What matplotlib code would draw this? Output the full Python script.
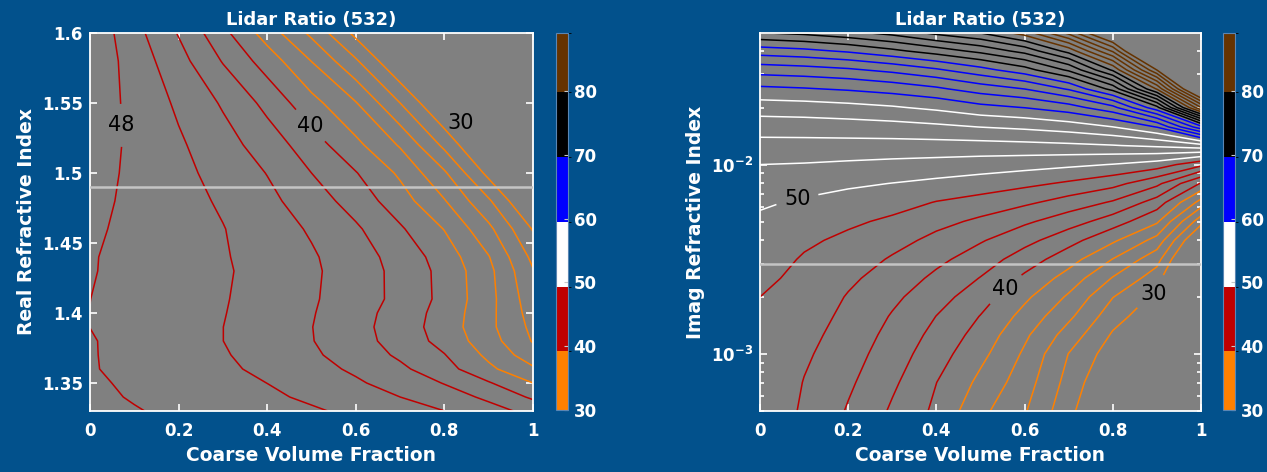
import numpy as np
import matplotlib
matplotlib.use("Agg")
import matplotlib.pyplot as plt
from matplotlib.colors import ListedColormap, BoundaryNorm
from matplotlib.cm import ScalarMappable
from matplotlib.ticker import FuncFormatter, NullFormatter, LogLocator

# ---------------------------------------------------------------- data
coarse_fraction = [0.0, 0.1, 0.2, 0.3, 0.4, 0.5, 0.6, 0.7, 0.8, 0.9, 1.0]

real_index = [1.33, 1.34, 1.35, 1.36, 1.37, 1.38, 1.39, 1.40, 1.41,
              1.43, 1.44, 1.46, 1.48, 1.50, 1.52, 1.55, 1.58, 1.60]

# lidar ratio (sr) vs real refractive index (rows) and coarse fraction (cols)
lidar_ratio_real = [
    [48.58, 48.11, 47.64, 47.17, 46.70, 46.23, 45.60, 44.80, 44.01, 42.72, 41.43],
    [48.39, 47.87, 47.36, 46.84, 46.32, 45.69, 44.84, 44.00, 42.89, 41.62, 39.67],
    [48.28, 47.71, 47.14, 46.57, 45.99, 45.13, 44.27, 43.17, 41.91, 40.17, 38.00],
    [48.13, 47.53, 46.93, 46.33, 45.59, 44.68, 43.68, 42.39, 40.76, 38.42, 36.30],
    [48.12, 47.47, 46.81, 46.16, 45.28, 44.32, 43.10, 41.69, 40.08, 37.56, 34.86],
    [48.12, 47.42, 46.71, 46.01, 45.04, 44.08, 42.75, 41.22, 39.33, 36.88, 33.86],
    [47.99, 47.33, 46.67, 46.01, 45.02, 44.04, 42.66, 41.05, 39.08, 36.51, 33.52],
    [47.98, 47.35, 46.72, 46.08, 45.13, 44.13, 42.77, 41.18, 39.20, 36.58, 33.17],
    [48.01, 47.38, 46.76, 46.14, 45.22, 44.23, 42.97, 41.47, 39.43, 36.67, 32.83],
    [48.11, 47.48, 46.85, 46.22, 45.34, 44.32, 43.01, 41.43, 39.38, 36.55, 32.14],
    [48.13, 47.47, 46.82, 46.16, 45.24, 44.23, 42.88, 41.24, 39.09, 36.10, 31.50],
    [48.30, 47.55, 46.81, 46.07, 44.97, 43.78, 42.30, 40.26, 37.93, 34.50, 29.85],
    [48.50, 47.61, 46.71, 45.75, 44.50, 43.00, 41.16, 38.89, 36.14, 32.30, 27.30],
    [48.72, 47.63, 46.54, 45.31, 43.94, 42.00, 40.10, 37.67, 34.28, 29.40, 25.40],
    [48.96, 47.62, 46.28, 44.79, 43.07, 40.94, 38.50, 35.80, 31.52, 26.90, 22.90],
    [49.21, 47.46, 45.68, 43.78, 41.44, 38.67, 36.12, 32.00, 27.60, 23.60, 19.60],
    [49.54, 47.13, 44.75, 41.87, 39.09, 35.96, 32.27, 27.90, 23.90, 19.90, 15.90],
    [49.54, 46.69, 43.87, 40.56, 37.11, 33.55, 29.47, 25.50, 21.50, 17.50, 13.50],
]

imag_index = [5.01e-4, 7.08e-4, 1.00e-3, 1.26e-3, 1.58e-3, 2.00e-3, 2.51e-3,
              3.16e-3, 3.98e-3, 5.01e-3, 6.31e-3, 7.94e-3, 1.00e-2, 1.26e-2,
              1.58e-2, 2.00e-2, 2.51e-2, 3.16e-2, 3.98e-2, 5.01e-2]

# lidar ratio (sr) vs imaginary refractive index (rows) and coarse fraction (cols)
lidar_ratio_imag = [
    [47.60, 45.70, 43.84, 41.74, 39.60, 36.52, 34.19, 30.66, 26.40, 23.08, 16.0],
    [47.70, 45.93, 44.34, 42.37, 40.02, 37.54, 34.94, 31.30, 27.66, 24.70, 17.0],
    [47.80, 46.32, 44.85, 43.00, 40.86, 38.57, 35.70, 31.95, 28.92, 26.33, 18.0],
    [47.86, 46.62, 45.19, 43.42, 41.41, 39.25, 36.39, 33.14, 29.76, 27.41, 18.8],
    [47.93, 46.92, 45.53, 43.85, 41.97, 39.93, 37.36, 34.44, 30.85, 28.49, 19.8],
    [48.00, 47.23, 45.87, 44.44, 42.78, 40.91, 38.42, 35.71, 32.06, 29.58, 21.0],
    [48.41, 47.53, 46.37, 45.12, 43.59, 41.92, 39.62, 37.21, 33.86, 30.96, 22.5],
    [48.84, 47.83, 46.99, 45.80, 44.49, 43.03, 41.06, 38.86, 35.94, 32.76, 24.5],
    [49.27, 48.32, 47.61, 46.69, 45.48, 44.19, 42.65, 40.76, 38.36, 35.31, 26.9],
    [49.69, 49.04, 48.34, 47.66, 46.61, 45.62, 44.36, 42.93, 41.06, 38.34, 30.80],
    [50.25, 49.76, 49.28, 48.78, 47.91, 47.28, 46.38, 45.18, 43.77, 41.14, 35.27],
    [51.12, 50.76, 50.32, 49.96, 49.56, 49.10, 48.50, 47.70, 46.69, 44.51, 39.83],
    [52.00, 51.90, 51.71, 51.51, 51.31, 51.05, 50.78, 50.42, 49.93, 49.12, 46.58],
    [53.34, 53.33, 53.32, 53.30, 53.32, 53.36, 53.48, 53.65, 53.91, 54.36, 55.28],
    [54.92, 55.00, 55.14, 55.32, 55.61, 56.03, 56.40, 56.98, 57.98, 60.08, 67.30],
    [56.99, 57.13, 57.40, 57.79, 58.42, 59.42, 60.04, 61.13, 63.40, 69.33, 83.93],
    [59.61, 59.86, 60.24, 60.82, 61.66, 62.96, 64.03, 66.24, 70.72, 80.22, 96.50],
    [62.90, 63.21, 63.69, 64.52, 65.71, 67.30, 69.19, 72.35, 78.32, 90.05, 109.2],
    [67.02, 67.49, 68.31, 69.54, 70.97, 72.58, 74.73, 78.74, 86.34, 99.55, 121.9],
    [72.20, 72.77, 73.71, 74.94, 76.83, 78.33, 81.22, 87.00, 94.98, 109.0, 134.5],
]

contour_levels = [30, 32, 34, 36, 38, 40, 42, 44, 46, 48, 50, 52, 54, 56, 58,
                  60, 62, 64, 66, 68, 70, 72, 74, 76, 78, 80, 82, 84, 86, 88, 90]

band_edges = [30, 39.3, 49.3, 59.5, 69.7, 79.9, 89.1]
band_colors = ["#ff8000", "#c00000", "#ffffff", "#0000ff", "#000000", "#663300"]
colorbar_ticks = [30, 40, 50, 60, 70, 80]

reference_real = 1.49
reference_imag = 3.0e-3

# labelled contours: (level, position near the line)
labels_real = [(48, (0.07, 1.534)), (40, (0.498, 1.534))]
labels_imag = [(50, (0.083, 6.8e-3)), (40, (0.55, 2.28e-3)), (30, (0.893, 2.06e-3))]

# ---------------------------------------------------------------- style
BG = "#02518c"
LW = 1.1
plt.rcParams["font.family"] = ["DejaVu Sans"]
plt.rcParams["font.weight"] = "bold"
plt.rcParams["axes.labelweight"] = "bold"
plt.rcParams["axes.titleweight"] = "bold"

fig = plt.figure(figsize=(12.67, 4.72), dpi=100, facecolor=BG)

band_cmap = ListedColormap(band_colors)
band_norm = BoundaryNorm(band_edges, len(band_colors))


def level_color(level):
    idx = int(np.searchsorted(band_edges, level, side="right")) - 1
    idx = min(max(idx, 0), len(band_colors) - 1)
    return band_colors[idx]


plain = FuncFormatter(lambda v, p: f"{v:g}")


def style_axes(ax):
    ax.set_facecolor("#808080")
    for sp in ax.spines.values():
        sp.set_color("white")
        sp.set_linewidth(1.3)
    ax.tick_params(which="both", direction="in", top=True, right=True,
                   colors="white", labelsize=12, width=1.2)
    ax.tick_params(which="major", length=5)
    ax.tick_params(which="minor", length=3)
    ax.tick_params(axis="x", pad=8)
    ax.tick_params(axis="y", pad=5)
    ax.set_xlim(0, 1)
    ax.set_xticks([0, 0.2, 0.4, 0.6, 0.8, 1.0])
    ax.xaxis.set_major_formatter(plain)
    ax.set_xlabel("Coarse Volume Fraction", color="white", fontsize=13.5, labelpad=4)
    ax.set_title("Lidar Ratio (532)", color="white", fontsize=13, pad=6)


def draw_contours(ax, x, y, z, labelled):
    z = np.array(z)
    label_levels = [lv for lv, _ in labelled]
    other = [lv for lv in contour_levels if lv not in label_levels]
    ax.contour(x, y, z, levels=other, colors=[level_color(v) for v in other],
               linewidths=LW)
    for lv, pos in labelled:
        cs = ax.contour(x, y, z, levels=[lv], colors=[level_color(lv)],
                        linewidths=LW)
        texts = ax.clabel(cs, manual=[pos], inline=True, inline_spacing=7,
                          fmt="%d", fontsize=15, colors="k")
        for t in texts:
            t.set_fontweight("normal")
            t.set_rotation(0)


def add_colorbar(rect):
    cax = fig.add_axes(rect)
    sm = ScalarMappable(norm=band_norm, cmap=band_cmap)
    cb = fig.colorbar(sm, cax=cax, ticks=colorbar_ticks, spacing="proportional")
    cb.outline.set_edgecolor("#5a86b4")
    cb.outline.set_linewidth(0.8)
    cax.tick_params(direction="in", length=3, width=0.8, color="#c8c8c8",
                    labelcolor="white", labelsize=12, pad=4)
    return cb


# ---------------------------------------------------------------- left panel
ax1 = fig.add_axes([0.07103, 0.12924, 0.34965, 0.80085])
style_axes(ax1)
draw_contours(ax1, coarse_fraction, real_index, lidar_ratio_real, labels_real)
# the 30 sr label sits just beside its contour
ax1.text(0.836, 1.536, "%d" % contour_levels[0], fontsize=15, color="k",
         fontweight="normal", ha="center", va="center", zorder=5)
ax1.axhline(reference_real, color="#c4c4c4", lw=1.8, zorder=4)
ax1.set_ylim(1.33, 1.6)
ax1.set_yticks([1.35, 1.4, 1.45, 1.5, 1.55, 1.6])
ax1.yaxis.set_major_formatter(plain)
ax1.set_ylabel("Real Refractive Index", color="white", fontsize=13.5, labelpad=4)

add_colorbar([0.43859, 0.13136, 0.00971, 0.79873])

# ---------------------------------------------------------------- right panel
ax2 = fig.add_axes([0.59984, 0.12924, 0.34807, 0.80085])
ax2.set_yscale("log")
style_axes(ax2)
draw_contours(ax2, coarse_fraction, imag_index, lidar_ratio_imag, labels_imag)
ax2.axhline(reference_imag, color="#c4c4c4", lw=1.8, zorder=4)
ax2.set_ylim(5.0e-4, 4.95e-2)
ax2.yaxis.set_major_locator(LogLocator(base=10))
ax2.yaxis.set_minor_locator(LogLocator(base=10, subs=(2, 3, 4, 5, 6, 7, 8, 9)))
ax2.yaxis.set_minor_formatter(NullFormatter())
ax2.set_ylabel("Imag Refractive Index", color="white", fontsize=13.5, labelpad=4)

add_colorbar([0.96527, 0.13136, 0.00947, 0.79873])

fig.savefig("out.png", dpi=100, facecolor=BG)
